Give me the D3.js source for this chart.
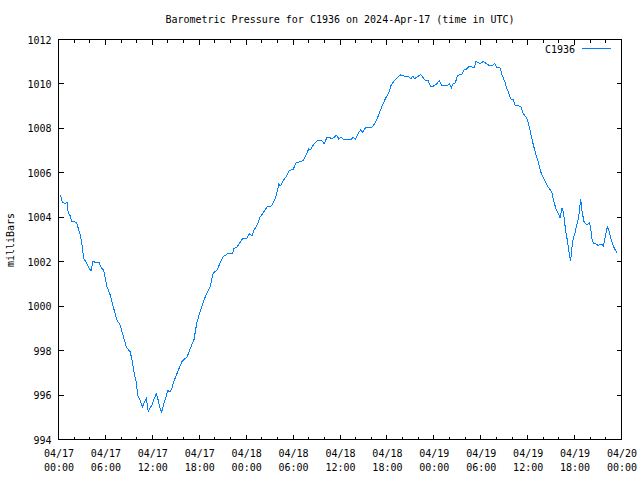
<!DOCTYPE html>
<html>
<head>
<meta charset="utf-8">
<script src="https://cdn.jsdelivr.net/npm/d3@7"></script>
<style>
  html, body { margin: 0; padding: 0; background: #fff; }
  svg { display: block; }
  text { font-family: "DejaVu Sans Mono", "Liberation Mono", monospace; font-size: 10px; fill: #000; }
</style>
</head>
<body>
<svg id="chart" width="640" height="480"></svg>
<script>
// ---- Data ----
const titleText = "Barometric Pressure for C1936 on 2024-Apr-17 (time in UTC)";
const yLabelText = "milliBars";
const seriesName = "C1936";
const startTime = Date.UTC(2024, 3, 17, 0, 0);
const endTime = Date.UTC(2024, 3, 20, 0, 0);
const yTickValues = [994, 996, 998, 1000, 1002, 1004, 1006, 1008, 1010, 1012];

// hours since 2024-04-17 00:00 UTC
const hoursOffset = [
  0.23, 0.49, 0.83, 1.09, 1.25, 1.51, 1.69, 2.28, 2.53, 2.79, 2.97, 3.22, 3.64, 3.90, 4.16, 4.41, 4.67, 5.18,
  5.52, 5.78, 5.95, 6.20, 6.55, 6.80, 7.06, 7.48, 7.90, 8.25, 8.67, 9.18, 9.44, 9.69, 9.95, 10.13, 10.46, 10.72,
  10.97, 11.23, 11.48, 11.92, 12.25, 12.51, 12.76, 12.94, 13.20, 13.45, 13.71, 13.97, 14.22, 14.48, 14.73, 15.07,
  15.41, 15.76, 16.09, 16.43, 16.82, 17.33, 17.67, 18.10, 18.52, 18.95, 19.38, 19.80, 20.23, 20.65, 21.08, 21.72,
  22.28, 22.45, 22.79, 23.21, 23.56, 24.07, 24.40, 24.75, 25.00, 25.43, 25.77, 26.19, 26.70, 27.22, 27.65, 27.98,
  28.16, 28.42, 28.75, 29.10, 29.52, 30.03, 30.37, 30.89, 31.31, 31.65, 32.00, 32.25, 32.59, 33.10, 33.70, 33.96,
  34.30, 34.63, 34.98, 35.58, 35.84, 36.17, 36.42, 37.50, 37.70, 37.96, 38.30, 38.65, 38.90, 39.24, 40.00, 40.35,
  40.70, 41.03, 41.37, 41.80, 42.23, 42.56, 43.00, 43.42, 43.76, 44.28, 44.79, 45.04, 45.30, 45.56, 45.89, 46.32,
  46.91, 47.26, 47.60, 47.93, 48.28, 48.70, 49.05, 49.72, 49.98, 50.23, 50.49, 50.75, 51.00, 51.26, 51.61, 51.86,
  52.21, 52.54, 52.88, 53.14, 53.40, 53.65, 54.00, 54.33, 54.67, 55.10, 55.53, 55.79, 56.04, 56.46, 56.72, 57.06,
  57.32, 57.57, 57.83, 58.16, 58.42, 59.11, 59.44, 59.87, 60.13, 60.38, 60.72, 61.06, 61.40, 61.66, 61.91, 62.17,
  62.51, 62.85, 63.11, 63.28, 63.54, 63.71, 63.97, 64.14, 64.39, 64.56, 64.74, 64.90, 65.07, 65.25, 65.42, 65.51,
  65.67, 65.84, 66.10, 66.28, 66.53, 66.70, 66.79, 66.95, 67.21, 67.47, 67.72, 67.89, 68.07, 68.24, 68.40, 68.84,
  69.00, 69.26, 69.51, 69.67, 69.93, 70.18, 70.44, 70.69, 70.95, 71.20, 71.46
];
const pressure = [
  1005.00, 1004.70, 1004.60, 1004.68, 1004.18, 1004.07, 1003.80, 1003.78, 1003.50, 1003.20, 1002.85, 1002.15, 1001.90, 1001.73, 1001.58, 1002.03, 1001.97, 1001.97,
  1001.70, 1001.63, 1001.32, 1000.87, 1000.57, 1000.27, 999.90, 999.37, 999.14, 998.69, 998.17, 997.94, 997.49, 996.97, 996.59, 995.99, 995.76, 995.46,
  995.66, 995.84, 995.27, 995.53, 995.84, 996.06, 995.76, 995.46, 995.23, 995.61, 995.84, 996.21, 996.14, 996.29, 996.59, 996.89,
  997.19, 997.49, 997.61, 997.70, 998.06, 998.50, 999.22, 999.75, 1000.20, 1000.57, 1000.87, 1001.50, 1001.60, 1001.93, 1002.23, 1002.38,
  1002.38, 1002.60, 1002.65, 1002.86, 1003.04, 1003.06, 1003.25, 1003.16, 1003.43, 1003.66, 1004.00, 1004.21, 1004.48, 1004.51, 1004.78, 1005.16,
  1005.49, 1005.41, 1005.65, 1005.83, 1006.10, 1006.17, 1006.44, 1006.50, 1006.56, 1006.81, 1007.07, 1007.04, 1007.26, 1007.44, 1007.44, 1007.31,
  1007.57, 1007.61, 1007.52, 1007.70, 1007.52, 1007.61, 1007.52, 1007.52, 1007.61, 1007.52, 1007.76, 1007.94, 1007.82, 1008.02, 1008.02, 1008.17,
  1008.39, 1008.69, 1008.99, 1009.33, 1009.60, 1009.97, 1010.16, 1010.32, 1010.41, 1010.35, 1010.32, 1010.23, 1010.35, 1010.24, 1010.32, 1010.42,
  1010.16, 1010.15, 1009.87, 1009.90, 1009.97, 1010.14, 1009.93, 1009.93, 1010.02, 1009.82, 1010.02, 1010.05, 1010.35, 1010.42, 1010.45, 1010.62,
  1010.68, 1010.80, 1010.77, 1010.72, 1011.02, 1010.95, 1010.92, 1011.02, 1010.92, 1010.83, 1010.83, 1010.92, 1010.72, 1010.72, 1010.42, 1010.12,
  1009.82, 1009.60, 1009.33, 1009.30, 1009.02, 1009.00, 1008.66, 1008.47, 1008.17, 1007.79, 1007.26, 1006.81, 1006.44, 1006.06, 1005.83, 1005.69,
  1005.41, 1005.26, 1005.08, 1004.78, 1004.48, 1004.30, 1004.15, 1003.96, 1004.41, 1004.26, 1003.73, 1003.28, 1002.98, 1002.53, 1002.15, 1002.08,
  1002.68, 1003.06, 1003.36, 1003.66, 1004.03, 1004.56, 1004.81, 1004.26, 1003.80, 1003.68, 1003.70, 1003.76, 1003.50, 1002.98, 1002.83, 1002.79,
  1002.71, 1002.79, 1002.79, 1002.71, 1003.13, 1003.58, 1003.36, 1002.98, 1002.71, 1002.53, 1002.38
];

// ---- Layout ----
const plotLeft = 58.5, plotRight = 621.5, plotTop = 39.5, plotBottom = 439.5;
const lineColor = "#0080ff";

const svg = d3.select("#chart");
const data = hoursOffset.map((h, i) => ({ t: new Date(startTime + h * 3600e3), v: pressure[i] }));

const x = d3.scaleUtc().domain([new Date(startTime), new Date(endTime)]).range([plotLeft, plotRight]);
const y = d3.scaleLinear().domain([994, 1012]).range([plotBottom, plotTop]);

const majorTicks = d3.utcHour.every(6).range(new Date(startTime), new Date(endTime + 1));
const minorTicks = d3.utcHour.every(2).range(new Date(startTime), new Date(endTime + 1));

// ticks group
const tickG = svg.append("g").attr("stroke", "#000").attr("stroke-width", 1).attr("shape-rendering", "crispEdges");
minorTicks.forEach(t => {
  const isMajor = t.getUTCHours() % 6 === 0;
  const len = isMajor ? 5 : 3;
  const px = Math.round(x(t) - 0.5) + 0.5;
  tickG.append("line").attr("x1", px).attr("x2", px).attr("y1", plotBottom).attr("y2", plotBottom - len);
  tickG.append("line").attr("x1", px).attr("x2", px).attr("y1", plotTop).attr("y2", plotTop + len);
});
yTickValues.forEach(v => {
  const py = Math.round(y(v) - 0.5) + 0.5;
  tickG.append("line").attr("x1", plotLeft).attr("x2", plotLeft + 5).attr("y1", py).attr("y2", py);
  tickG.append("line").attr("x1", plotRight).attr("x2", plotRight - 5).attr("y1", py).attr("y2", py);
});

// y axis labels (via d3 axis for positions)
const yAxis = d3.axisLeft(y).tickValues(yTickValues).tickSize(0).tickPadding(7).tickFormat(d3.format("d"));
const yg = svg.append("g").attr("transform", `translate(${plotLeft},0)`).call(yAxis);
yg.select(".domain").remove();
yg.selectAll("text").attr("font-family", null).attr("font-size", null).attr("dy", "0.35em");

// x axis labels (two lines)
const xAxis = d3.axisBottom(x).tickValues(majorTicks).tickSize(0).tickFormat("");
const xg = svg.append("g").attr("transform", `translate(0,${plotBottom})`).call(xAxis);
xg.select(".domain").remove();
const fmtDate = d3.utcFormat("%m/%d"), fmtTime = d3.utcFormat("%H:%M");
xg.selectAll(".tick").each(function(d) {
  const g = d3.select(this);
  g.select("text").remove();
  g.append("text").attr("text-anchor", "middle").attr("y", 17).text(fmtDate(d));
  g.append("text").attr("text-anchor", "middle").attr("y", 31).text(fmtTime(d));
});

// border
svg.append("rect").attr("x", plotLeft).attr("y", plotTop)
  .attr("width", plotRight - plotLeft).attr("height", plotBottom - plotTop)
  .attr("fill", "none").attr("stroke", "#000").attr("stroke-width", 1).attr("shape-rendering", "crispEdges");

// data line
const line = d3.line().x(d => x(d.t)).y(d => y(d.v));
svg.append("path").datum(data).attr("d", line)
  .attr("fill", "none").attr("stroke", lineColor).attr("stroke-width", 1).attr("shape-rendering", "crispEdges");

// title
svg.append("text").attr("x", 340).attr("y", 23).attr("text-anchor", "middle").text(titleText);

// y label
svg.append("text").attr("transform", "translate(14,240) rotate(-90)").attr("text-anchor", "middle").text(yLabelText);

// legend
svg.append("text").attr("x", 575).attr("y", 53).attr("text-anchor", "end").text(seriesName);
svg.append("line").attr("x1", 582).attr("x2", 611).attr("y1", 48.5).attr("y2", 48.5)
  .attr("stroke", lineColor).attr("stroke-width", 1).attr("shape-rendering", "crispEdges");
</script>
</body>
</html>
